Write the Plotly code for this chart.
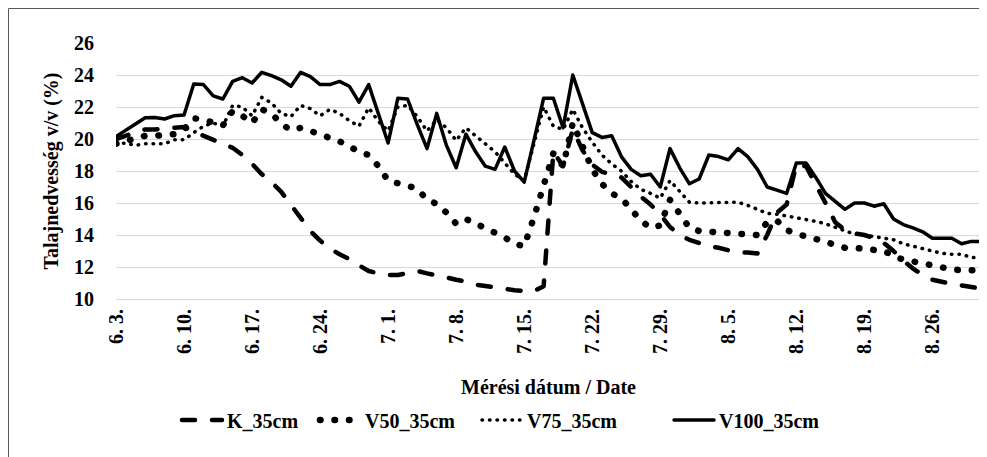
import plotly.graph_objects as go
import pandas as pd

# 90 daily measurement dates, 6/3 .. 8/31
dates = pd.date_range("2019-06-03", periods=90)
date_labels = [f"{d.month}. {d.day}." for d in dates]
tick_labels = date_labels[::7]

series_names = ["K_35cm", "V50_35cm", "V75_35cm", "V100_35cm"]

K_35 = [20.0, 20.2, 20.45, 20.6, 20.6, 20.65, 20.75, 20.75, 20.45, 20.2,
        19.9, 19.7, 19.45, 19.0, 18.45, 17.8, 17.3, 16.7, 15.9, 15.0,
        14.25, 13.65, 13.15, 12.8, 12.5, 12.1, 11.75, 11.6, 11.5, 11.5,
        11.65, 11.75, 11.6, 11.5, 11.35, 11.2, 11.1, 10.9, 10.8, 10.75,
        10.65, 10.55, 10.5, 10.5, 10.8, 19.2, 18.3, 20.6, 19.3, 18.4,
        17.95, 17.8, 17.6, 17.0, 16.4, 15.9, 15.3, 14.5, 14.0, 13.7,
        13.5, 13.3, 13.2, 13.05, 12.9, 12.9, 12.85, 14.0, 15.4, 15.9,
        18.4, 18.3, 17.2, 16.0, 14.8, 14.3, 14.1, 14.0, 13.8, 13.5,
        13.0, 12.4, 11.9, 11.5, 11.2, 11.05, 10.95, 10.85, 10.75, 10.65]

V50_35 = [19.7, 19.85, 20.05, 20.2, 20.2, 20.25, 20.3, 20.6, 21.3, 21.2,
          21.05, 20.85, 21.75, 21.45, 21.0, 21.85, 21.6, 20.95, 20.55, 20.7,
          20.5, 20.3, 20.1, 19.85, 19.55, 19.2, 19.0, 18.3, 17.4, 17.25,
          17.1, 16.9, 16.2, 15.95, 15.4, 14.7, 15.0, 14.7, 14.45, 14.2,
          13.85, 13.45, 13.3, 15.1, 17.2, 19.1, 18.3, 21.0, 19.55, 18.1,
          17.2, 16.6, 16.3, 15.6, 14.9, 14.45, 14.6, 16.2, 15.3, 14.45,
          14.25, 14.2, 14.2, 14.2, 14.1, 14.1, 14.0, 14.8, 14.9, 14.3,
          14.05, 13.9, 13.75, 13.6, 13.35, 13.2, 13.2, 13.1, 13.05, 13.0,
          12.7, 12.45, 12.35, 12.2, 12.05, 11.95, 11.85, 11.8, 11.85, 11.8]

V75_35 = [19.7, 19.75, 19.6, 19.7, 19.7, 19.7, 19.95, 19.95, 20.4, 20.8,
          21.0, 20.8, 22.1, 22.0, 21.45, 22.6, 22.25, 21.6, 21.4, 22.1,
          21.9, 21.45, 21.85, 21.6, 21.15, 20.8, 21.95, 21.1, 20.5, 22.0,
          22.1, 21.4, 20.5, 21.2, 20.7, 19.9, 20.7, 20.2, 19.75, 19.2,
          18.5, 17.8, 17.4, 19.6, 22.0, 20.8, 20.6, 21.85, 20.7, 19.8,
          19.0, 18.45, 18.0, 17.35, 16.85, 16.6, 16.3, 17.4, 16.7, 16.05,
          16.0, 16.0, 16.05, 16.05, 16.05, 15.85, 15.6, 15.35, 15.3, 15.2,
          15.1, 14.95, 14.85, 14.7, 14.5, 14.3, 14.05, 14.0, 13.9, 13.85,
          13.7, 13.45, 13.3, 13.15, 13.05, 12.85, 12.8, 12.8, 12.6, 12.55]

V100_35 = [20.15, 20.56, 20.95, 21.33, 21.35, 21.25, 21.46, 21.5, 23.44, 23.4,
           22.7, 22.5, 23.6, 23.83, 23.5, 24.17, 23.96, 23.7, 23.3, 24.17,
           23.9, 23.4, 23.4, 23.6, 23.3, 22.3, 23.4, 21.5, 19.75, 22.55,
           22.5, 20.9, 19.4, 21.6, 19.6, 18.2, 20.3, 19.2, 18.3, 18.1,
           19.5, 18.0, 17.3, 19.9, 22.55, 22.55, 20.7, 24.0, 22.2, 20.4,
           20.1, 20.2, 18.9, 18.1, 17.7, 17.8, 17.0, 19.4, 18.2, 17.2,
           17.5, 19.0, 18.9, 18.7, 19.4, 18.9, 18.1, 17.0, 16.8, 16.6,
           18.5, 18.5, 17.6, 16.6, 16.1, 15.6, 16.0, 16.0, 15.8, 15.95,
           15.0, 14.65, 14.45, 14.2, 13.8, 13.8, 13.8, 13.45, 13.6, 13.6]

y_ticks = [10, 12, 14, 16, 18, 20, 22, 24, 26]

FONT = "Liberation Serif"
FS = 20
styles = [
    dict(width=4.5, dash="13px,17px"),
    dict(width=6.5, dash="0.5px,14px"),
    dict(width=3.5, dash="0.5px,7px"),
    dict(width=3.5, dash="solid"),
]
legend_ids = ["legend", "legend2", "legend3", "legend4"]
legend_left_px = [169, 307, 469, 661]

fig = go.Figure()
for name, vals, st, lg in zip(series_names, [K_35, V50_35, V75_35, V100_35], styles, legend_ids):
    fig.add_trace(go.Scatter(
        x=date_labels, y=vals, mode="lines", name=name, legend=lg,
        line=dict(color="black", width=st["width"], dash=st["dash"]),
    ))

W, H = 987, 457
L, R, T, B = 108, 14, 35, 166
pw, ph = W - L - R, H - T - B

def px_x(p):
    return (p - L) / pw

def px_y(p):
    return (H - B - p) / ph

bold = dict(family=FONT, size=FS, color="black", weight="bold")

legends = {}
for lg, lx in zip(legend_ids, legend_left_px):
    legends[lg] = dict(orientation="h", x=px_x(lx), xanchor="left",
                       y=px_y(412), yanchor="middle",
                       font=bold, itemwidth=40, bgcolor="rgba(0,0,0,0)")

fig.update_layout(
    width=W, height=H,
    margin=dict(l=L, r=R, t=T, b=B, autoexpand=False),
    paper_bgcolor="white", plot_bgcolor="white",
    font=bold,
    showlegend=True,
    **legends,
    xaxis=dict(type="category", categoryorder="array", categoryarray=date_labels,
               tickmode="array", tickvals=tick_labels, ticktext=tick_labels,
               tickangle=-90, showgrid=False, zeroline=False,
               showline=True, linecolor="#d9d9d9", linewidth=1,
               ticks="outside", ticklen=1, tickcolor="rgba(0,0,0,0)",
               tickfont=bold,
               title=dict(text="Mérési dátum / Date", standoff=26, font=bold)),
    yaxis=dict(range=[10, 26], tickmode="array", tickvals=y_ticks,
               showgrid=True, gridcolor="#d9d9d9", gridwidth=1,
               zeroline=False, showline=False,
               ticks="outside", ticklen=17, tickcolor="rgba(0,0,0,0)",
               tickfont=bold,
               title=dict(text="Talajnedvesség v/v (%)", standoff=10, font=bold)),
    shapes=[dict(type="rect", xref="paper", yref="paper",
                 x0=px_x(0.5), x1=px_x(986.5), y0=px_y(456.5), y1=px_y(0.5),
                 line=dict(color="#595959", width=1), fillcolor="rgba(0,0,0,0)",
                 layer="below")],
)

post = ("var s=document.createElement('style');"
        "s.textContent='.js-line{stroke-linecap:round;stroke-linejoin:round;}';"
        "document.head.appendChild(s);")
fig.write_html("out.html", post_script=post)
